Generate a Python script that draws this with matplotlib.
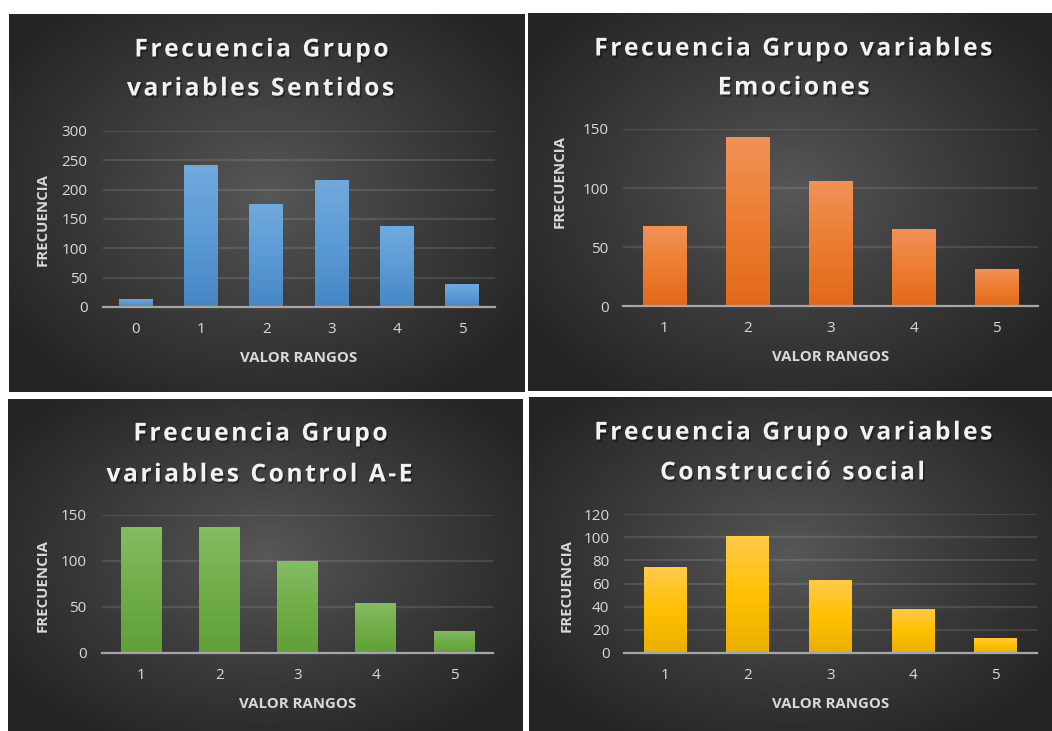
import numpy as np
import matplotlib
matplotlib.use("Agg")
import matplotlib.pyplot as plt
import matplotlib.patheffects as pe
from matplotlib.colors import LinearSegmentedColormap

plt.rcParams['font.family'] = ['Open Sans', 'DejaVu Sans']

W, H = 1052, 731

# ---- data ----
rangos_sentidos = ["0", "1", "2", "3", "4", "5"]
freq_sentidos = [14, 242, 175, 216, 138, 39]

rangos_emociones = ["1", "2", "3", "4", "5"]
freq_emociones = [68, 143, 106, 65, 31]

rangos_control = ["1", "2", "3", "4", "5"]
freq_control = [137, 137, 100, 54, 24]

rangos_social = ["1", "2", "3", "4", "5"]
freq_social = [74, 101, 63, 38, 13]

titulo_sentidos = ["Frecuencia Grupo", "variables Sentidos"]
titulo_emociones = ["Frecuencia Grupo variables", "Emociones"]
titulo_control = ["Frecuencia Grupo", "variables Control A-E"]
titulo_social = ["Frecuencia Grupo variables", "Construcció social"]

yticks_sentidos = [0, 50, 100, 150, 200, 250, 300]
yticks_emociones = [0, 50, 100, 150]
yticks_control = [0, 50, 100, 150]
yticks_social = [0, 20, 40, 60, 80, 100, 120]

# ---- styling ----
BAR_GRADS = {
    "blue": ["#72a9dd", "#5b9bd5", "#4786c6"],
    "orange": ["#f19259", "#ed7d31", "#e2691a"],
    "green": ["#85bc65", "#70ad47", "#60a039"],
    "gold": ["#ffca4d", "#ffc000", "#e8b000"],
}
TEXT = "#d9d9d9"
HAIR = "\u200a"


def spaced(s):
    # widen the tracking of the title text
    return HAIR.join(s)


def box(x0, y0, x1, y1):
    return [x0 / W, 1 - y1 / H, (x1 - x0) / W, (y1 - y0) / H]


def fx(x):
    return x / W


def fy(y):
    return 1 - y / H


def radial_background(fig, rect):
    x0, y0, x1, y1 = rect
    bg = fig.add_axes(box(x0, y0, x1, y1), zorder=0)
    nx, ny = int(x1 - x0), int(y1 - y0)
    xx, yy = np.meshgrid(np.linspace(-1, 1, nx), np.linspace(-1, 1, ny))
    r = np.sqrt(xx ** 2 + ((yy + 0.05) * 0.95) ** 2) / np.sqrt(2)
    t = np.clip(r / 0.85, 0, 1) ** 0.9
    c_in = np.array([0x58, 0x58, 0x58]) / 255
    c_out = np.array([0x25, 0x25, 0x25]) / 255
    img = c_in[None, None, :] * (1 - t[..., None]) + c_out[None, None, :] * t[..., None]
    bg.imshow(img, extent=[0, 1, 0, 1], aspect="auto", interpolation="bilinear")
    bg.set_axis_off()


def panel(fig, cats, vals, yticks, title, grad, P):
    radial_background(fig, P["panel"])
    ax = fig.add_axes(box(*P["plot"]), zorder=1)
    ax.patch.set_alpha(0)
    n = len(cats)
    xs = np.arange(n)
    bars = ax.bar(xs, vals, width=0.52, zorder=3)
    cmap = LinearSegmentedColormap.from_list("g", BAR_GRADS[grad])
    col = np.linspace(0, 1, 256).reshape(-1, 1)
    for rect in bars:
        x0, w, h = rect.get_x(), rect.get_width(), rect.get_height()
        im = ax.imshow(col, cmap=cmap, extent=[x0, x0 + w, 0, h], origin="upper",
                       aspect="auto", zorder=3, interpolation="bilinear")
        im.set_clip_path(rect)
        rect.set_facecolor("none")
        rect.set_edgecolor("none")
    ax.set_xlim(-0.5, n - 0.5)
    ax.set_ylim(0, yticks[-1])
    ax.set_yticks(yticks)
    ax.set_xticks(xs)
    ax.set_xticklabels(cats)
    for s in ax.spines.values():
        s.set_visible(False)
    for t in yticks[1:]:
        ax.axhline(t, color="#ffffff", alpha=0.11, lw=1.6, zorder=1)
    ax.axhline(0, color="#a6a6a6", lw=1.6, zorder=4, clip_on=False)
    ax.tick_params(axis="both", length=0, colors=TEXT, labelsize=11)
    ax.tick_params(axis="y", pad=P["ypad"])
    ax.tick_params(axis="x", pad=P["xpad"])

    shadow = [pe.withSimplePatchShadow(offset=(1.2, -1.5), shadow_rgbFace="black", alpha=0.4)]
    for line, (cx, cy) in zip(title, P["title"]):
        fig.text(fx(cx), fy(cy), spaced(line), ha="center", va="center", fontsize=17.8,
                 fontweight="bold", color="#f2f2f2", path_effects=shadow, zorder=5)
    cx, cy = P["xlabel"]
    fig.text(fx(cx), fy(cy), "VALOR RANGOS", ha="center", va="center",
             fontsize=10.8, fontweight="bold", color=TEXT, zorder=5)
    cx, cy = P["ylabel"]
    fig.text(fx(cx), fy(cy), "FRECUENCIA", ha="center", va="center", rotation=90,
             fontsize=10.8, fontweight="bold", color=TEXT, zorder=5)


fig = plt.figure(figsize=(W / 100, H / 100), dpi=100, facecolor="white")

panel(fig, rangos_sentidos, freq_sentidos, yticks_sentidos, titulo_sentidos, "blue",
      dict(panel=(9, 14, 525, 392), plot=(103, 131, 495, 307), ypad=11, xpad=11,
           title=[(262, 50), (261, 89)], xlabel=(299, 358), ylabel=(43, 219)))
panel(fig, rangos_emociones, freq_emociones, yticks_emociones, titulo_emociones, "orange",
      dict(panel=(528, 13, 1052, 391), plot=(623, 129, 1038, 306), ypad=10.5, xpad=11,
           title=[(794, 49), (794, 88)], xlabel=(831, 357), ylabel=(560, 182)))
panel(fig, rangos_control, freq_control, yticks_control, titulo_control, "green",
      dict(panel=(8, 399, 523, 731), plot=(102, 515, 493, 653), ypad=11, xpad=11,
           title=[(261, 434), (260, 475)], xlabel=(298, 704), ylabel=(43, 585)))
panel(fig, rangos_social, freq_social, yticks_social, titulo_social, "gold",
      dict(panel=(529, 397, 1052, 731), plot=(624, 514, 1037, 653), ypad=10.5, xpad=11,
           title=[(794, 433), (793, 473)], xlabel=(831, 704), ylabel=(567, 585)))

fig.savefig("out.png", dpi=100, facecolor="white")
